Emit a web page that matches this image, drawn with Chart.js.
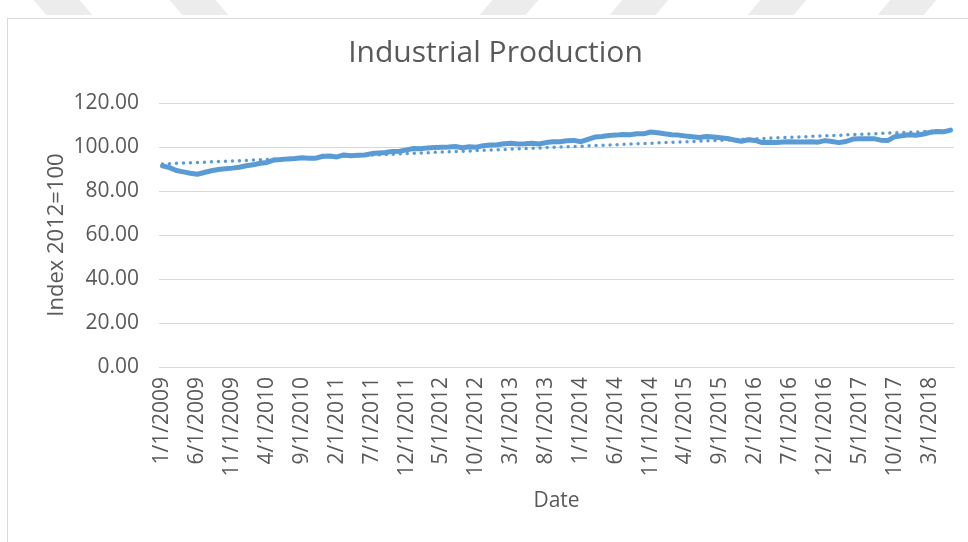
<!DOCTYPE html>
<html>
<head>
<meta charset="utf-8">
<script src="https://cdn.jsdelivr.net/npm/chart.js@4.4.0/dist/chart.umd.min.js"></script>
<style>
  body { margin: 0; background: #fff; width: 968px; height: 542px; overflow: hidden; position: relative; }
  .mark { position: absolute; top: 0; height: 15px; width: 46px; background: #ececec; }
  .back { transform: skewX(40deg); }
  .fwd { transform: skewX(-40deg); }
  #frame { position: absolute; left: 7px; top: 18px; width: 961px; height: 524px;
           border-left: 1px solid #d9d9d9; border-top: 1px solid #d9d9d9; background: #fff; }
  #ipchart { position: absolute; left: 0; top: 0; }
</style>
</head>
<body>
<div class="mark back" style="left: 40px;"></div>
<div class="mark back" style="left: 176px;"></div>
<div class="mark fwd" style="left: 486px;"></div>
<div class="mark fwd" style="left: 616px;"></div>
<div class="mark fwd" style="left: 754px;"></div>
<div class="mark fwd" style="left: 884px;"></div>
<div id="frame"><canvas id="ipchart" width="961" height="524"></canvas></div>
<script>
// monthly index, 2012=100, Jan 2009 .. Jun 2018
var production = [
    91.4, 90.6, 89.3, 88.7, 88.1, 87.6, 88.4, 89.2, 89.8, 90.1, 90.4, 90.8,
    91.5, 91.9, 92.6, 93.0, 94.1, 94.3, 94.6, 94.8, 95.1, 94.9, 94.9, 95.8,
    95.9, 95.5, 96.4, 96.0, 96.2, 96.4, 97.0, 97.3, 97.5, 98.0, 98.1, 98.7,
    99.3, 99.2, 99.6, 99.8, 99.9, 100.0, 100.2, 99.7, 100.1, 99.9, 100.6, 100.9,
    101.0, 101.5, 101.7, 101.4, 101.5, 101.7, 101.4, 102.0, 102.4, 102.4, 102.8, 103.0,
    102.4, 103.5, 104.5, 104.8, 105.2, 105.4, 105.7, 105.6, 106.0, 106.0, 106.8, 106.5,
    106.0, 105.6, 105.4, 105.0, 104.7, 104.3, 104.8, 104.5, 104.2, 103.9, 103.2, 102.6,
    103.3, 103.0, 102.0, 102.2, 102.0, 102.3, 102.4, 102.3, 102.3, 102.4, 102.2, 102.9,
    102.5, 102.0, 102.5, 103.6, 103.8, 103.8, 103.8, 103.1, 102.9, 104.7, 105.1, 105.6,
    105.3, 105.8, 106.6, 107.0, 106.9, 107.7
];

// linear trend, read at its two ends
var trendEnds = [92.3, 107.5];

var yTicks = [0, 20, 40, 60, 80, 100, 120];

var startYear = 2009;
var labels = [];
for (var i = 0; i < production.length; i++) {
    var m = i % 12 + 1;
    var y = startYear + Math.floor(i / 12);
    labels.push(m + '/1/' + y);
}

var trend = production.map(function (v, i) {
    if (i === 0) return trendEnds[0];
    if (i === production.length - 1) return trendEnds[1];
    return null;
});

var BLUE = '#5B9BD5';
var GREY = '#595959';
var FONT = "'Open Sans', sans-serif";

var ctx = document.getElementById('ipchart').getContext('2d');
var chart = new Chart(ctx, {
    type: 'line',
    data: {
        labels: labels,
        datasets: [
            {
                label: 'Linear trend',
                data: trend,
                spanGaps: true,
                borderColor: BLUE,
                borderWidth: 3.5,
                borderDash: [0, 7],
                borderCapStyle: 'round',
                pointRadius: 0,
                fill: false,
                order: 0
            },
            {
                label: 'Industrial Production',
                data: production,
                borderColor: BLUE,
                borderWidth: 5,
                borderCapStyle: 'round',
                borderJoinStyle: 'round',
                pointRadius: 0,
                tension: 0,
                fill: false,
                order: 1
            }
        ]
    },
    options: {
        responsive: false,
        animation: false,
        layout: { padding: { left: 14, right: 0, top: 0, bottom: 0 } },
        plugins: {
            legend: { display: false },
            tooltip: { enabled: false },
            title: {
                display: true,
                text: 'Industrial Production',
                color: GREY,
                font: { family: FONT, size: 30, weight: 'normal' },
                padding: { top: 16, bottom: 32 }
            }
        },
        scales: {
            x: {
                offset: true,
                grid: { display: false, drawTicks: false },
                border: { display: true, color: '#d9d9d9' },
                ticks: {
                    autoSkip: false,
                    maxRotation: 90,
                    minRotation: 90,
                    padding: 10,
                    color: GREY,
                    font: { family: FONT, size: 21 },
                    callback: function (val, idx) {
                        return idx % 5 === 0 ? labels[idx] : '';
                    }
                },
                title: {
                    display: true,
                    text: 'Date',
                    color: GREY,
                    font: { family: FONT, size: 21 },
                    padding: { top: 0, bottom: 29 }
                },
                afterFit: function (scale) {
                    scale.height = 176;
                    scale.paddingLeft = 0;
                    scale.paddingRight = 15;
                }
            },
            y: {
                min: 0,
                max: 120,
                grid: { color: '#d9d9d9', lineWidth: 1, drawTicks: false },
                border: { display: false },
                afterBuildTicks: function (scale) {
                    scale.ticks = yTicks.map(function (v) { return { value: v }; });
                },
                ticks: {
                    padding: 20,
                    color: GREY,
                    font: { family: FONT, size: 21 },
                    callback: function (v) { return v.toFixed(2); }
                },
                title: {
                    display: true,
                    text: 'Index 2012=100',
                    color: GREY,
                    font: { family: FONT, size: 22 },
                    padding: { top: 22, bottom: 0 }
                },
                afterFit: function (scale) { scale.width = 137; }
            }
        }
    }
});
</script>
</body>
</html>
